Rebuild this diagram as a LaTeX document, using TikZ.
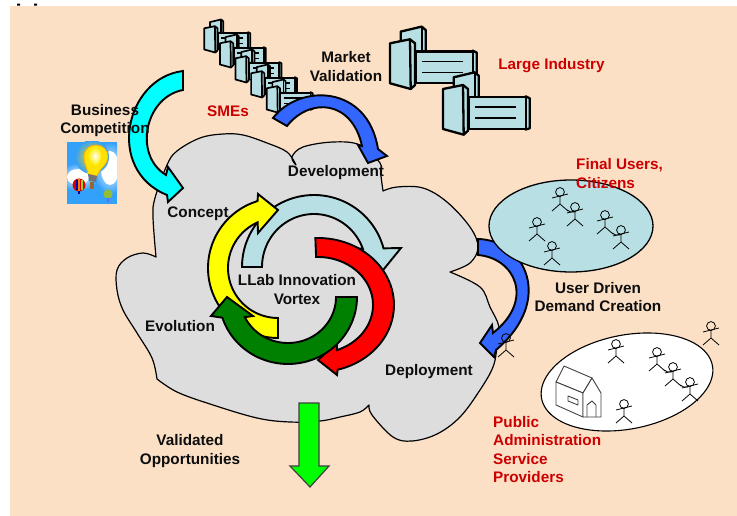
\documentclass[tikz,border=0pt]{standalone}
\usepackage{fontspec}
\setmainfont{Liberation Sans}
\definecolor{bgpeach}{RGB}{251,224,198}
\definecolor{cloudgray}{RGB}{221,221,221}
\definecolor{paleteal}{RGB}{184,224,228}
\definecolor{royal}{RGB}{51,102,255}
\definecolor{darkgrn}{RGB}{0,128,0}
\definecolor{labelred}{RGB}{204,0,0}
\definecolor{skyblue}{RGB}{51,160,250}
\definecolor{purecyan}{RGB}{0,255,255}
\definecolor{pureyellow}{RGB}{255,255,0}
\definecolor{purered}{RGB}{255,0,0}
\definecolor{puregreen}{RGB}{0,255,0}
\tikzset{
  lab/.style={font=\fontsize{15.3}{18.2}\selectfont\bfseries,align=center,inner sep=0pt,text=black!95},
  redlab/.style={lab,text=labelred},
  blockarrow/.style={draw=black,line width=1.9pt,line join=miter,miter limit=6},
  bld/.style={draw=black,fill=paleteal,line join=round},
  stickman/.style={draw=black,line width=.8pt},
}
\newcommand{\buildingicon}[4]{%
  \begin{scope}[shift={(#1,#2)},scale=#3]
    \path[bld,line width=#4] (10.7,-11.7) -- (31.7,-16.7) -- (35.7,-13.3) -- (35.7,8.3) -- (10.7,8.3) -- cycle;
    \path[bld,line width=#4] (31.7,-16.7) -- (31.7,8.3);
    \path[bld,line width=#4] (82.7,7.3) -- (86.7,9.3) -- (86.7,39.3) -- (82.7,40.5) -- cycle;
    \path[bld,line width=#4] (26,8.3) -- (82.7,8.3) -- (82.7,40) -- (26,40) -- cycle;
    \path[bld,line width=#4] (0,0) -- (20,-4) -- (25,0) -- (25,41.7) -- (20.7,45.7) -- (0,40) -- cycle;
    \draw[line width=#4] (20,-4) -- (20.7,45.7);
    \draw[line width=.7*#4] (32.3,18.3) -- (73.3,18.3) (32.3,29.3) -- (73.3,29.3);
  \end{scope}%
}
\newcommand{\stick}[2]{%
  \begin{scope}[shift={(#1,#2)}]
    \draw[stickman] (0,0) circle (4.4);
    \draw[stickman] (0,4.4) -- (0,12) (-8,6) -- (8,2) (-8,19) -- (0,12) -- (8,19);
  \end{scope}%
}
\newcommand{\sticklink}[2]{%
  \draw[stickman] (#1+7,#2+18) .. controls (#1+9,#2+20) and (#1+12,#2+20.5) .. (#1+15,#2+20);%
}
\begin{document}
\begin{tikzpicture}[x=1pt,y=-1pt]
\useasboundingbox (0,0) rectangle (737,516);
\fill[white] (0,0) rectangle (737,516);
\fill[bgpeach] (10,6) rectangle (737,516);
\fill[black] (17,3.6) rectangle (20,5.6) (34,3.6) rectangle (37,5.6);

% small buildings (SMEs)
\foreach \k in {0,...,4} {\buildingicon{204.3+15.6*\k}{28.3+15*\k}{.53}{1.7pt}}
% large buildings
\buildingicon{390}{43.3}{1}{2.3pt}
\buildingicon{443}{89}{1}{2.3pt}

% cloud
\path[draw=black,line width=1.2pt,fill=cloudgray,line join=round]
  plot[smooth,tension=.6] coordinates {(296,165) (292,157) (303,147) (333,142) (360,145) (380,163) (381,176) (383,191)}
  -- plot[smooth,tension=.6] coordinates {(383,191) (397,187) (423,188) (447,202) (470,227) (478,247) (470,263) (450,272)}
  -- plot[smooth,tension=.6] coordinates {(450,272) (480,287) (490,307) (499,327) (497,347) (493,367) (480,390) (460,417) (437,434) (412,441) (393,437) (372,415) (369,405)}
  -- plot[smooth,tension=.6] coordinates {(369,405) (360,412) (340,417) (320,421) (290,422) (257,418) (210,404) (177,392) (157,379)}
  -- plot[smooth,tension=.6] coordinates {(157,379) (152,358) (137,333) (123,310) (117,290) (117,270) (127,258) (143,253) (156,257)}
  -- plot[smooth,tension=.6] coordinates {(156,257) (153,217) (155,198) (167,165) (177,151) (200,138) (223,134) (243,135) (267,143) (287,152) (296,165)}
  -- cycle;

% outer curved arrows
\path[blockarrow,fill=purecyan] (183,71) .. controls (125,78) and (105,170) .. (167,195)
  -- (168,202) -- (183,188) -- (168,167) -- (166,175)
  .. controls (133,155) and (145,97) .. (183,90) -- cycle;
\path[blockarrow,fill=royal] (273,118) .. controls (300,83) and (368,85) .. (378,149)
  -- (387,156) -- (368,163) -- (358,145) -- (362,146)
  .. controls (352,100) and (310,97) .. (287,126) -- cycle;
\path[blockarrow,fill=royal] (478,239) .. controls (525,240) and (555,300) .. (496,350)
  -- (494,357) -- (480,343) -- (492,325) -- (493,333)
  .. controls (535,300) and (515,258) .. (478,255) -- cycle;

% vortex
\path[blockarrow,fill=paleteal]
  plot[domain=180:345,samples=50] ({314+72*cos(\x)},{267+72*sin(\x)})
  -- (401,248) -- (375,280) -- (352,248)
  -- plot[domain=340:180,samples=50] ({314+52*cos(\x)},{267+53*sin(\x)}) -- cycle;
\path[blockarrow,fill=purered]
  plot[domain=-92:75,samples=50] ({318+76*cos(\x)},{305+67*sin(\x)})
  -- (337,375) -- (318,360) -- (337,343)
  -- plot[domain=70:-92,samples=50] ({318+55*cos(\x)},{305+48*sin(\x)}) -- cycle;
\path[blockarrow,fill=pureyellow]
  plot[domain=90:253,samples=50] ({278+70*cos(\x)},{268+70*sin(\x)})
  -- (258,194) -- (278,210) -- (258,233)
  -- plot[domain=246:90,samples=50] ({278+50*cos(\x)},{268+50*sin(\x)}) -- cycle;
\path[blockarrow,fill=darkgrn]
  plot[domain=0:162,samples=50] ({288+69*cos(\x)},{297+67*sin(\x)})
  -- (211,316) -- (227,297) -- (253,316)
  -- plot[domain=154:0,samples=50] ({288+48*cos(\x)},{297+46*sin(\x)}) -- cycle;

% down arrow
\path[draw=black!75,line width=1.2pt,fill=puregreen,line join=miter]
  (299,403) -- (319,403) -- (319,466) -- (329,466) -- (310,487) -- (290,466) -- (299,466) -- cycle;

% user ellipse
\path[draw=black,line width=1.3pt,fill=paleteal] (571,226) ellipse [x radius=82,y radius=46];
\stick{560}{192}\stick{575}{207}\sticklink{560}{192}
\stick{605}{215}\stick{621}{230}\sticklink{605}{215}
\stick{537}{222}\stick{552}{246}

% public administration ellipse
\path[draw=black,line width=1.1pt,fill=white]
  plot[domain=0:360,samples=90] ({627+87*cos(\x)*cos(-11)-47*sin(\x)*sin(-11)},{382+87*cos(\x)*sin(-11)+47*sin(\x)*cos(-11)}) -- cycle;
% house
\begin{scope}[draw=black!75,line width=.9pt,fill=white,line join=round]
  \path[draw,fill] (556,382) -- (564,366) -- (592,378) -- (583,393) -- cycle;
  \path[draw,fill] (556,382) -- (583,393) -- (583,417) -- (556,405) -- cycle;
  \path[draw,fill] (583,393) -- (592,378) -- (601,393) -- (601,417) -- (583,417) -- cycle;
  \draw (568,396) -- (578,400) -- (578,405) -- (568,401) -- cycle;
  \draw (587,417) -- (587,405) -- (592,401) -- (596,405) -- (596,417);
\end{scope}
\stick{616}{344}\stick{657}{352}\stick{673}{367}\stick{690}{382}
\sticklink{657}{352}\sticklink{673}{367}
\stick{624}{404}\stick{711}{326}\stick{506}{338}

% picture tile: bulb and balloons
\begin{scope}
  \clip (67,142) rectangle (117,204);
  \fill[skyblue] (67,142) rectangle (117,204);
  \shade[inner color=white,outer color=skyblue] (78,177) ellipse [x radius=20,y radius=14];
  \shade[inner color=white,outer color=skyblue] (110,168) ellipse [x radius=17,y radius=26];
  \fill[white] (78,177) ellipse [x radius=11,y radius=8];
  \fill[white] (110,168) ellipse [x radius=9,y radius=17];
  \shade[inner color=yellow!70!orange,outer color=skyblue] (92,157) circle (17);
  \path[fill=yellow!85!orange,draw=orange!70!yellow,line width=.6pt]
    (88,174) .. controls (87,167) and (84,164) .. (84,157)
    .. controls (84,149) and (90,145) .. (96,145)
    .. controls (103,145) and (108,150) .. (108,157)
    .. controls (108,164) and (100,168) .. (97,176) -- cycle;
  \shade[inner color=white,outer color=yellow!85!orange] (95,156) ellipse [x radius=6.5,y radius=9];
  \fill[black!55] (88,174) -- (97,176) -- (96,182) -- (89,181) -- cycle;
  \fill[brown!80!black] (90,182) rectangle (94,189);
  \fill[red!85!black] (79,185) circle (6.5);
  \fill[orange] (78,179) rectangle (80,191);
  \fill[blue!70!black] (76,180) rectangle (77.5,190);
  \fill[yellow!60!green] (81,180) rectangle (82.5,190);
  \fill[blue!60!black] (78,191) rectangle (80,194);
  \fill[yellow!60!green!85!black] (108,194) circle (4.6);
  \fill[blue!60] (107.3,198) rectangle (108.7,202);
\end{scope}

% labels
\node[lab] (biz) at (105,120.5) {Business\\Competition};
\node[lab] (market) at (346,66.5) {Market\\Validation};
\node[redlab] (smes) at (228,111.5) {SMEs};
\node[redlab] (large) at (551.5,66) {Large Industry};
\node[lab] (dev) at (336,172.5) {Development};
\node[lab] (concept) at (198,213.5) {Concept};
\node[lab] (evol) at (180,326.5) {Evolution};
\node[lab] (vortex) at (297,289.5) {LLab Innovation\\Vortex};
\node[lab] (deploy) at (429,371.5) {Deployment};
\node[lab] (valid) at (190,451) {Validated\\Opportunities};
\node[redlab,align=left,anchor=west] (final) at (576,173.5) {Final Users,\\Citizens};
\node[lab] (udc) at (598,297) {User Driven\\Demand Creation};
\node[redlab,align=left,anchor=west] (pub) at (493,449.5) {Public\\Administration\\Service\\Providers};
\end{tikzpicture}
\end{document}
